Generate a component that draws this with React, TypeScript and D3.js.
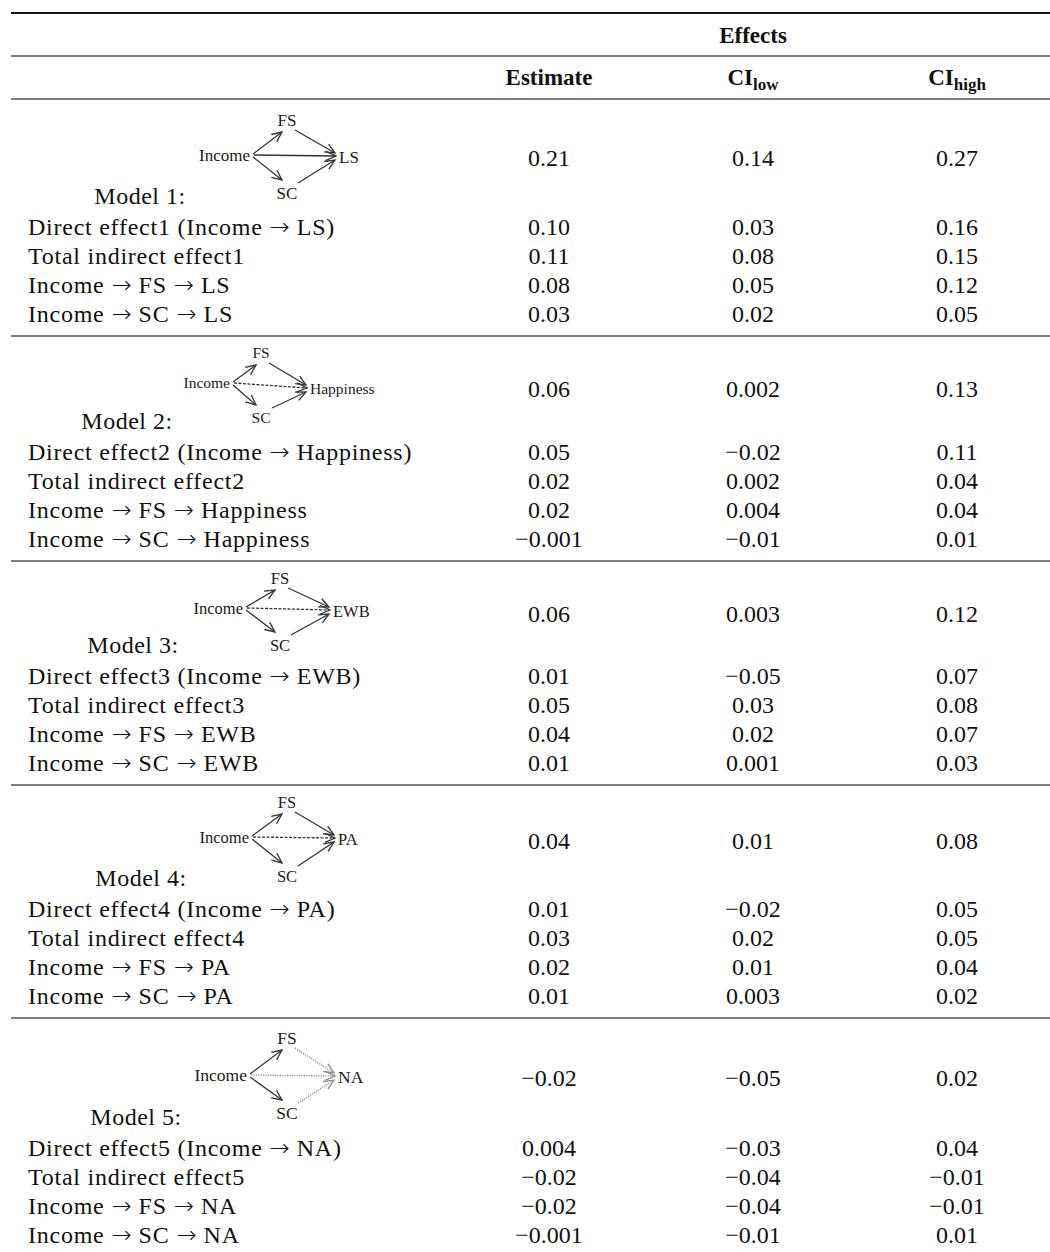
import React from "react";
import * as d3 from "d3";

// ---------- data ----------
const columns = ["Estimate", "CIlow", "CIhigh"];
const modelNames = ["Model 1:", "Model 2:", "Model 3:", "Model 4:", "Model 5:"];
const outcomes = ["LS", "Happiness", "EWB", "PA", "NA"];
const rowLabels = [
  ["Direct effect1 (Income \u2192 LS)", "Total indirect effect1", "Income \u2192 FS \u2192 LS", "Income \u2192 SC \u2192 LS"],
  ["Direct effect2 (Income \u2192 Happiness)", "Total indirect effect2", "Income \u2192 FS \u2192 Happiness", "Income \u2192 SC \u2192 Happiness"],
  ["Direct effect3 (Income \u2192 EWB)", "Total indirect effect3", "Income \u2192 FS \u2192 EWB", "Income \u2192 SC \u2192 EWB"],
  ["Direct effect4 (Income \u2192 PA)", "Total indirect effect4", "Income \u2192 FS \u2192 PA", "Income \u2192 SC \u2192 PA"],
  ["Direct effect5 (Income \u2192 NA)", "Total indirect effect5", "Income \u2192 FS \u2192 NA", "Income \u2192 SC \u2192 NA"],
];
// first value of each model = total effect (diagram row), then the 4 rows
const estimates = [
  ["0.21", "0.10", "0.11", "0.08", "0.03"],
  ["0.06", "0.05", "0.02", "0.02", "\u22120.001"],
  ["0.06", "0.01", "0.05", "0.04", "0.01"],
  ["0.04", "0.01", "0.03", "0.02", "0.01"],
  ["\u22120.02", "0.004", "\u22120.02", "\u22120.02", "\u22120.001"],
];
const ciLow = [
  ["0.14", "0.03", "0.08", "0.05", "0.02"],
  ["0.002", "\u22120.02", "0.002", "0.004", "\u22120.01"],
  ["0.003", "\u22120.05", "0.03", "0.02", "0.001"],
  ["0.01", "\u22120.02", "0.02", "0.01", "0.003"],
  ["\u22120.05", "\u22120.03", "\u22120.04", "\u22120.04", "\u22120.01"],
];
const ciHigh = [
  ["0.27", "0.16", "0.15", "0.12", "0.05"],
  ["0.13", "0.11", "0.04", "0.04", "0.01"],
  ["0.12", "0.07", "0.08", "0.07", "0.03"],
  ["0.08", "0.05", "0.05", "0.04", "0.02"],
  ["0.02", "0.04", "\u22120.01", "\u22120.01", "0.01"],
];
// path styles
const directStyle = ["solid", "dashed", "dashed", "dashed", "dotted"];
const mediatedStyle = ["solid", "solid", "solid", "solid", "dotted"];

// ---------- layout ----------
const W = 1050;
const H = 1252;
const FONT = "'Liberation Serif', 'Times New Roman', serif";
const FS = 24;
const ROW = 29;
const tableTop = 99;
const diagH = [128, 116, 115, 124, 129.5];
const valueOff = [59, 53, 53, 56, 60];
const modelLabelX = [140, 127, 133, 141, 136];
const dg = [
  { incEnd: 250, cy: 56, midX: 287, fsY: 21, scY: 94, outX: 339, outY: 58, fsz: 17 },
  { incEnd: 230, cy: 47, midX: 261, fsY: 17, scY: 82, outX: 310, outY: 53, fsz: 15.5 },
  { incEnd: 243, cy: 47, midX: 280, fsY: 17, scY: 84, outX: 333, outY: 50, fsz: 16.5 },
  { incEnd: 249, cy: 52, midX: 287, fsY: 17, scY: 91, outX: 338, outY: 54, fsz: 16.5 },
  { incEnd: 247, cy: 57, midX: 287, fsY: 20, scY: 95, outX: 338, outY: 59, fsz: 17.5 },
];

const colX = d3.scalePoint<string>().domain(columns).range([549, 957]);

function blockTops(): number[] {
  const tops: number[] = [];
  let t = tableTop;
  for (let i = 0; i < modelNames.length; i++) {
    tops.push(t);
    t += diagH[i] + 3 * ROW + 22;
  }
  return tops;
}

function Arrow({ x1, y1, x2, y2, style }: any) {
  const ang = Math.atan2(y2 - y1, x2 - x1);
  const L = 11;
  const a = 0.42;
  const p1: [number, number] = [x2 - L * Math.cos(ang - a), y2 - L * Math.sin(ang - a)];
  const p2: [number, number] = [x2 - L * Math.cos(ang + a), y2 - L * Math.sin(ang + a)];
  const line = d3.line();
  const color = style === "dotted" ? "#8a8a8a" : "#333";
  const dash = style === "dashed" ? "3,1.5" : style === "dotted" ? "1.2,1.2" : undefined;
  return (
    <g stroke={color} fill="none" strokeWidth={1.3}>
      <path d={line([[x1, y1], [x2, y2]]) || ""} strokeDasharray={dash} />
      <path d={line([p1, [x2, y2], p2]) || ""} />
    </g>
  );
}

function Diagram({ i, top }: { i: number; top: number }) {
  const g = dg[i];
  const cy = top + g.cy;
  const fsY = top + g.fsY;
  const scY = top + g.scY;
  const outY = top + g.outY;
  return (
    <g fontFamily={FONT} fontSize={g.fsz} fill="#1a1a1a">
      <text x={g.incEnd} y={cy} dy="0.35em" textAnchor="end">Income</text>
      <text x={g.midX} y={fsY} dy="0.35em" textAnchor="middle">FS</text>
      <text x={g.midX} y={scY} dy="0.35em" textAnchor="middle">SC</text>
      <text x={g.outX} y={outY} dy="0.35em">{outcomes[i]}</text>
      <Arrow x1={g.incEnd + 3} y1={cy - 1} x2={g.midX - 5} y2={fsY + 12} style="solid" />
      <Arrow x1={g.incEnd + 3} y1={cy + 2} x2={g.midX - 5} y2={scY - 13} style="solid" />
      <Arrow x1={g.midX + 8} y1={fsY + 10} x2={g.outX - 4} y2={outY - 4} style={mediatedStyle[i]} />
      <Arrow x1={g.midX + 11} y1={scY - 10} x2={g.outX - 4} y2={outY + 3} style={mediatedStyle[i]} />
      <Arrow x1={g.incEnd + 4} y1={cy} x2={g.outX - 3} y2={outY - 1} style={directStyle[i]} />
    </g>
  );
}

function Label({ x, y, text }: { x: number; y: number; text: string }) {
  const parts = text.split(" \u2192 ");
  return (
    <text x={x} y={y} dy="0.35em" letterSpacing={0.75}>
      {parts.map((p, k) => (
        <React.Fragment key={k}>
          {k > 0 && (
            <tspan
              fontFamily="'DejaVu Sans', sans-serif"
              fontWeight={200}
              fontSize={24}
              letterSpacing={0}
              dx={7}
            >
              {"\u2192"}
            </tspan>
          )}
          <tspan dx={k > 0 ? 7 : 0}>{p}</tspan>
        </React.Fragment>
      ))}
    </text>
  );
}

export default function App() {
  const tops = blockTops();
  const valueCols = [estimates, ciLow, ciHigh];
  const ruleColor = "#555";
  return (
    <svg width={W} height={H} style={{ position: "absolute", left: 0, top: 0, background: "#fff" }}>
      <rect width={W} height={H} fill="#fff" />
      <line x1={11} x2={W} y1={13} y2={13} stroke="#111" strokeWidth={2.2} />
      <line x1={11} x2={W} y1={56} y2={56} stroke={ruleColor} strokeWidth={1.4} />
      <line x1={11} x2={W} y1={tableTop} y2={tableTop} stroke={ruleColor} strokeWidth={1.4} />
      {tops.slice(1).map((t, i) => (
        <line key={i} x1={11} x2={W} y1={t} y2={t} stroke={ruleColor} strokeWidth={1.4} />
      ))}
      <g fontFamily={FONT} fontSize={FS - 1} fontWeight="bold" fill="#111" textAnchor="middle">
        <text x={colX("CIlow")} y={35} dy="0.35em">Effects</text>
        <text x={colX("Estimate")} y={77} dy="0.35em">Estimate</text>
        <text x={colX("CIlow")} y={77} dy="0.35em">
          CI<tspan fontSize={17} dy="5">low</tspan>
        </text>
        <text x={colX("CIhigh")} y={77} dy="0.35em">
          CI<tspan fontSize={17} dy="5">high</tspan>
        </text>
      </g>
      {tops.map((t, i) => {
        const firstRow = t + diagH[i];
        return (
          <g key={i}>
            <Diagram i={i} top={t} />
            <g fontFamily={FONT} fontSize={FS} fill="#111">
              <text x={modelLabelX[i]} y={firstRow - 31} dy="0.35em" textAnchor="middle" letterSpacing={0.5}>
                {modelNames[i]}
              </text>
              {rowLabels[i].map((lab, r) => (
                <Label key={r} x={28} y={firstRow + r * ROW} text={lab} />
              ))}
              {columns.map((c, ci) =>
                valueCols[ci][i].map((v, r) => (
                  <text
                    key={c + r}
                    x={colX(c)}
                    y={r === 0 ? t + valueOff[i] : firstRow + (r - 1) * ROW}
                    dy="0.35em"
                    textAnchor="middle"
                  >
                    {v}
                  </text>
                ))
              )}
            </g>
          </g>
        );
      })}
    </svg>
  );
}
